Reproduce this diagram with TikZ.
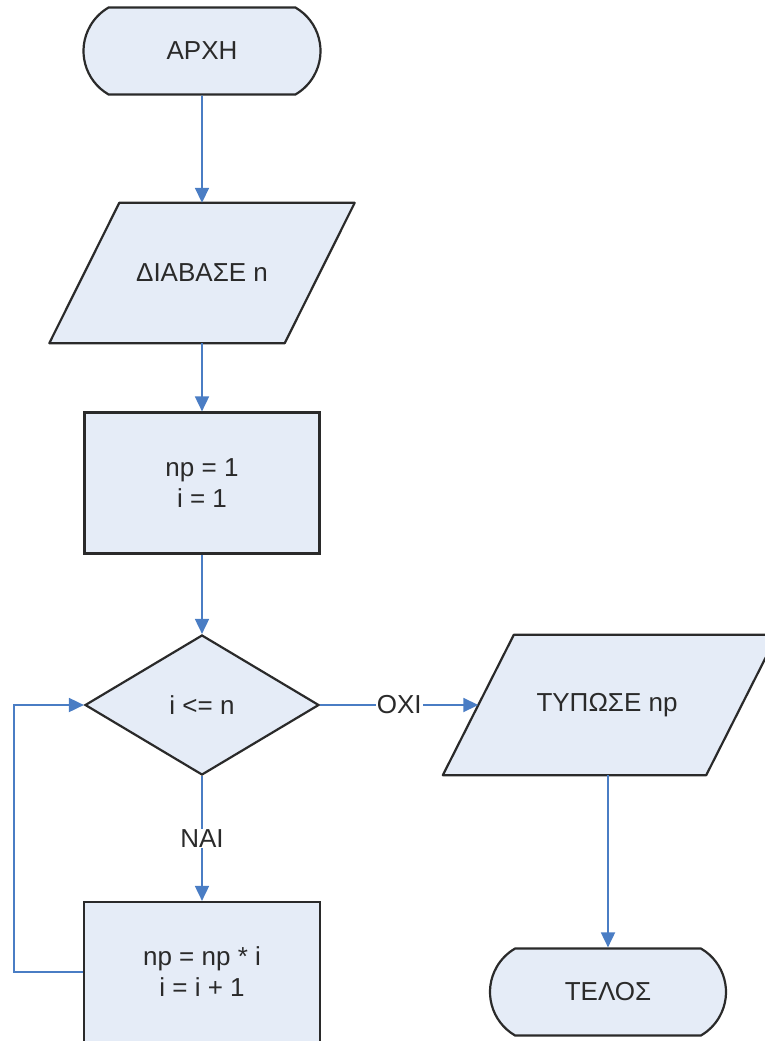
\documentclass[tikz,border=0pt]{standalone}
\usepackage{fontspec}
\setmainfont{Liberation Sans}
\usetikzlibrary{shapes.geometric,shapes.misc,arrows.meta}
\definecolor{boxfill}{HTML}{E5ECF7}
\definecolor{boxline}{HTML}{2A2A2A}
\definecolor{flow}{HTML}{4A7DC4}
\tikzset{
  txt/.style={text=boxline, font=\fontsize{26}{31}\selectfont, align=center, inner sep=0pt},
  base/.style={txt, draw=boxline, line width=2.2pt, fill=boxfill},
  outline/.style={draw=boxline, line width=2.2pt, fill=boxfill, line join=round},
  term/.style={base, rounded rectangle, rounded rectangle arc length=120,
    minimum width=237, minimum height=87},
  io/.style={txt, rectangle, minimum width=235, minimum height=140},
  proc/.style={base, rectangle, minimum width=235, minimum height=141},
  dec/.style={base, diamond, minimum width=234, minimum height=140},
  flowline/.style={draw=flow, line width=1.8pt},
  arr/.style={flowline, -{Triangle[length=15pt,width=14pt]}},
  lbl/.style={fill=white, text=boxline, inner sep=1pt, font=\fontsize{26}{31}\selectfont}
}
\begin{document}
\begin{tikzpicture}[x=1pt,y=-1pt]
\useasboundingbox (0,0) rectangle (764,1041);
\node[term] (start) at (202,51) {ΑΡΧΗ};
% input parallelogram
\node[io] (read) at (202,273) {};
\draw[outline] ([xshift=-35pt]read.south west) -- ([xshift=-35pt]read.south east)
  -- ([xshift=35pt]read.north east) -- ([xshift=35pt]read.north west) -- cycle;
\node[txt] (readtxt) at (read.center) {ΔΙΑΒΑΣΕ n};
\node[proc] (init) at (202,483) {np = 1\\i = 1};
\node[dec] (cond) at (202,705) {i <= n};
% output parallelogram
\node[io, minimum width=263] (print) at (610,705) {};
\draw[outline] ([xshift=-35.5pt]print.south west) -- ([xshift=-35.5pt]print.south east)
  -- ([xshift=35.5pt]print.north east) -- ([xshift=35.5pt]print.north west) -- cycle;
\node[txt] (printtxt) at (607,705) {ΤΥΠΩΣΕ np};
\node[proc, minimum width=236, minimum height=140] (body) at (202,972) {np = np * i\\i = i + 1};
\node[term, minimum width=236] (stop) at (608,992) {ΤΕΛΟΣ};
\draw[arr] (start) -- (read);
\draw[arr] (read) -- (init);
\draw[arr] (init) -- (cond);
\draw[arr] (cond.east) -- node[lbl] {ΟΧΙ} (print.west);
\draw[arr] (cond.south) -- node[lbl] {ΝΑΙ} (body.north);
\draw[arr] (print.south -| stop.north) -- (stop.north);
\coordinate (back) at (14,972);
\draw[arr] (body.west) -- (back) |- (cond.west);
\end{tikzpicture}
\end{document}
